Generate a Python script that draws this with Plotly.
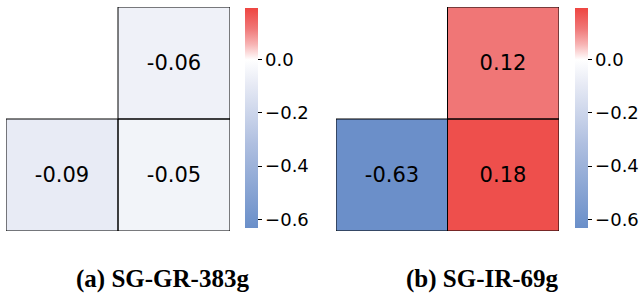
import plotly.graph_objects as go

# Data (rows top-to-bottom, columns left-to-right); None = masked cell
rows = ["r0", "r1"]
cols = ["c0", "c1"]
panel_a_values = [[None, -0.06], [-0.09, -0.05]]
panel_b_values = [[None, 0.12], [-0.63, 0.18]]
captions = ["(a) SG-GR-383g", "(b) SG-IR-69g"]
cbar_tickvals = [0.0, -0.2, -0.4, -0.6]
cbar_ticktext = ["0.0", "\u22120.2", "\u22120.4", "\u22120.6"]

ZMIN, ZMAX = -0.633, 0.195
zero_pos = (0 - ZMIN) / (ZMAX - ZMIN)
red_span = 1 - zero_pos
colorscale = [
    [0.0, "#6a8fc9"],
    [zero_pos * 0.5, "#afbfe0"],
    [zero_pos * 0.86, "#e8ebf5"],
    [zero_pos, "#ffffff"],
    [zero_pos + red_span * 0.3, "#f7b3b3"],
    [zero_pos + red_span * 0.6, "#f07878"],
    [1.0, "#ee4541"],
]

W, H = 640, 294
fig = go.Figure()

panels = [
    dict(vals=panel_a_values, cb_x=245, ax="", cap_x=162),
    dict(vals=panel_b_values, cb_x=575, ax="2", cap_x=482),
]
y_top, y_bot = 7, 231
cb_top, cb_bot = 8, 228

for k, p in enumerate(panels):
    vals = p["vals"]
    text = [["" if v is None else f"{v:.2f}" for v in row] for row in vals]
    fig.add_trace(go.Heatmap(
        z=vals, x=list(range(len(cols))), y=list(range(len(rows))),
        text=text, texttemplate="%{text}",
        textfont=dict(family="DejaVu Sans", size=21, color="black"),
        colorscale=colorscale, zmin=ZMIN, zmax=ZMAX,
        xaxis="x" + p["ax"], yaxis="y" + p["ax"],
        hoverinfo="skip",
        colorbar=dict(
            x=p["cb_x"] / W, xanchor="left", xpad=0,
            y=1 - (cb_top + cb_bot) / 2 / H, yanchor="middle", ypad=0,
            len=cb_bot - cb_top, lenmode="pixels",
            thickness=13, thicknessmode="pixels",
            outlinewidth=0,
            tickvals=cbar_tickvals, ticktext=cbar_ticktext,
            ticks="outside", ticklen=4, tickwidth=1, tickcolor="black",
            tickfont=dict(family="DejaVu Sans", size=18, color="black"),
        ),
    ))
    xref = "x" + p["ax"]
    yref = "y" + p["ax"]
    for i, row in enumerate(vals):
        for j, v in enumerate(row):
            if v is None:
                continue
            fig.add_shape(type="rect", xref=xref, yref=yref,
                          x0=j - 0.5, x1=j + 0.5, y0=i - 0.5, y1=i + 0.5,
                          line=dict(color="black", width=1), layer="above")
    fig.add_annotation(
        text="<b>" + captions[k] + "</b>", x=p["cap_x"] / W, y=1 - 279 / H,
        xref="paper", yref="paper", showarrow=False,
        xanchor="center", yanchor="middle",
        font=dict(family="Liberation Serif", size=25, color="black"),
    )

axis_common = dict(visible=False, showgrid=False, zeroline=False)
fig.update_layout(
    width=W, height=H,
    margin=dict(l=0, r=0, t=0, b=0),
    paper_bgcolor="white", plot_bgcolor="white",
    xaxis=dict(domain=[6 / W, 230 / W], range=[-0.5, 1.5], **axis_common),
    yaxis=dict(domain=[1 - y_bot / H, 1 - y_top / H], range=[1.5, -0.5], **axis_common),
    xaxis2=dict(domain=[336 / W, 559 / W], range=[-0.5, 1.5], **axis_common),
    yaxis2=dict(domain=[1 - y_bot / H, 1 - y_top / H], range=[1.5, -0.5], **axis_common),
    showlegend=False,
)

fig.write_html(
    "out.html",
    config={"displayModeBar": False},
    post_script="document.body.style.margin='0';document.body.style.overflow='hidden';",
)
